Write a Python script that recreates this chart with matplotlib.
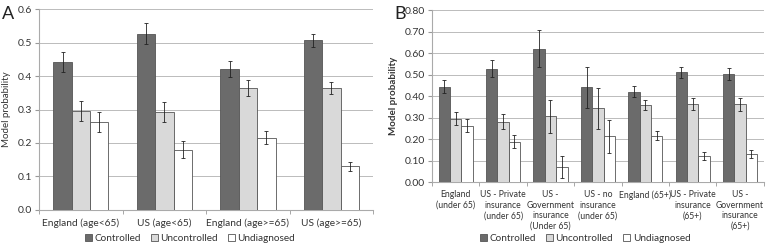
import matplotlib

matplotlib.use("Agg")
import matplotlib.pyplot as plt
import numpy as np

# Panel A
cats_a = ["England (age<65)", "US (age<65)", "England (age>=65)", "US (age>=65)"]
ctrl_a = [0.443, 0.527, 0.421, 0.507]
ctrl_a_err = [0.030, 0.032, 0.024, 0.020]
unc_a = [0.296, 0.293, 0.364, 0.364]
unc_a_err = [0.030, 0.030, 0.025, 0.018]
und_a = [0.263, 0.180, 0.216, 0.130]
und_a_err = [0.030, 0.025, 0.020, 0.013]

# Panel B
cats_b = ["England\n(under 65)", "US - Private\ninsurance\n(under 65)",
          "US -\nGovernment\ninsurance\n(Under 65)", "US - no\ninsurance\n(under 65)",
          "England (65+)", "US - Private\ninsurance\n(65+)",
          "US -\nGovernment\ninsurance\n(65+)"]
ctrl_b = [0.443, 0.528, 0.620, 0.440, 0.421, 0.510, 0.503]
ctrl_b_err = [0.030, 0.040, 0.085, 0.095, 0.025, 0.027, 0.028]
unc_b = [0.295, 0.281, 0.306, 0.344, 0.358, 0.364, 0.362]
unc_b_err = [0.030, 0.035, 0.077, 0.095, 0.024, 0.028, 0.030]
und_b = [0.262, 0.188, 0.070, 0.212, 0.216, 0.121, 0.131]
und_b_err = [0.030, 0.032, 0.052, 0.077, 0.020, 0.018, 0.018]

series_names = ["Controlled", "Uncontrolled", "Undiagnosed"]
colors = ["#6b6b6b", "#d9d9d9", "#ffffff"]
TXT = "#333333"

plt.rcParams["font.family"] = ["Lato", "DejaVu Sans"]


def panel(ax, cats, vals, errs, width, ymax, ystep, fmt, ylab_weight, fs, pad):
    x = np.arange(len(cats))
    for i, (v, e) in enumerate(zip(vals, errs)):
        ax.bar(x + (i - 1) * width, v, width, color=colors[i], edgecolor="#555555",
               linewidth=0.6, label=series_names[i], zorder=3,
               yerr=e, error_kw=dict(ecolor="#222222", elinewidth=0.6, capsize=1.5,
                                     capthick=0.6))
    ax.set_xlim(-0.5, len(cats) - 0.5)
    ax.set_ylim(0, ymax)
    ticks = np.arange(0, ymax + ystep / 2, ystep)
    ax.set_yticks(ticks)
    ax.set_yticklabels([fmt.format(t) for t in ticks], fontsize=7.5, color=TXT)
    ax.set_xticks(x)
    ax.set_xticklabels(cats, fontsize=fs, color=TXT, linespacing=1.2)
    ax.set_xticks(np.arange(-0.5, len(cats)), minor=True)
    ax.tick_params(axis="x", which="major", length=0, pad=pad)
    ax.tick_params(axis="x", which="minor", length=3, color="#999999")
    ax.tick_params(axis="y", length=3, color="#999999", pad=2)
    ax.grid(axis="y", color="#bbbbbb", linewidth=0.7, zorder=0)
    for s in ["top", "right"]:
        ax.spines[s].set_visible(False)
    ax.spines["left"].set_color("#aaaaaa")
    ax.spines["bottom"].set_color("#aaaaaa")
    ax.set_ylabel("Model probability", fontsize=7, color=TXT, weight=ylab_weight,
                  labelpad=5)


fig = plt.figure(figsize=(7.68, 2.45), dpi=100)
ax_a = fig.add_axes([0.051, 0.143, 0.435, 0.82])
ax_b = fig.add_axes([0.5625, 0.257, 0.432, 0.702])

panel(ax_a, cats_a, [ctrl_a, unc_a, und_a], [ctrl_a_err, unc_a_err, und_a_err],
      0.22, 0.6, 0.1, "{:.1f}", "normal", 7.3, 6)
panel(ax_b, cats_b, [ctrl_b, unc_b, und_b], [ctrl_b_err, unc_b_err, und_b_err],
      0.24, 0.8, 0.1, "{:.2f}", "bold", 6.2, 6)

leg_kw = dict(loc="center", ncol=3, frameon=False, fontsize=7.2, handlelength=0.7,
              handleheight=0.7, handletextpad=0.25, columnspacing=1.0, labelcolor=TXT)
h, l = ax_a.get_legend_handles_labels()
fig.legend(h, l, bbox_to_anchor=(0.247, 0.028), **leg_kw)
fig.legend(h, l, bbox_to_anchor=(0.762, 0.028), **leg_kw)

fig.text(0.003, 0.975, "A", fontsize=13, va="top", color="#222222")
fig.text(0.513, 0.975, "B", fontsize=13, va="top", color="#222222")

fig.savefig("out.png", dpi=100)
